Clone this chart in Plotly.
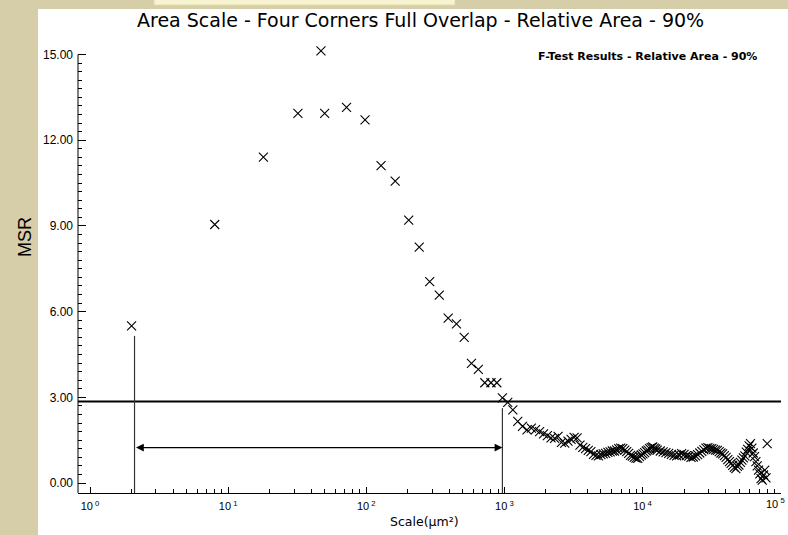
import math
import plotly.graph_objects as go

# ---------------- data ----------------
scale_um2 = [2, 8, 18, 32, 47, 50, 72, 98, 128, 162, 203, 242, 288, 338, 392, 450, 512, 578, 648, 722, 800, 882, 968,
             1058, 1152, 1250, 1352, 1458, 1568, 1682, 1800, 1922, 2048, 2178, 2312, 2450, 2592, 2738, 2888, 3042, 3200,
             3362, 3528, 3698, 3872, 4050, 4232, 4418, 4608, 4802, 5000, 5202, 5408, 5618, 5832, 6050, 6272, 6498, 6728,
             6962, 7200, 7442, 7688, 7938, 8192, 8450, 8712, 8978, 9248, 9522, 9800, 10082,
             10368, 10658, 10952, 11250, 11552, 11858, 12168, 12482, 12800, 13448, 14112, 14792, 15488, 16200, 16928,
             17672, 18432, 19208, 20000, 20808, 21632, 22472, 23328, 24200, 25088, 25992, 26912, 27848, 28800, 29768,
             30752, 31752, 32768, 33800, 34848, 35912, 36992, 38088, 39200, 40328, 41472, 42632, 43808, 45000, 46208,
             47432, 48672, 49928, 51200, 52488, 53792, 55112, 56448, 57800, 59168, 60552, 61952, 63368, 64800, 66248,
             67712, 69192, 70688, 72200, 73728, 75272, 76832, 78408, 80000]
msr = [5.50, 9.05, 11.41, 12.94, 15.13, 12.94, 13.15, 12.71, 11.11, 10.57, 9.20, 8.26, 7.05, 6.58, 5.77, 5.57, 5.10,
       4.19, 3.98, 3.51, 3.51, 3.51, 2.98,
       2.82, 2.56, 2.16, 1.98, 1.86, 1.92, 1.87, 1.80, 1.72, 1.66, 1.58, 1.56, 1.63, 1.42, 1.40, 1.47, 1.53, 1.60,
       1.58, 1.33, 1.25, 1.20, 1.14, 1.10, 1.00, 0.97, 0.95, 0.99, 1.02, 1.04, 1.07, 1.09, 1.12, 1.12, 1.16, 1.20,
       1.22, 1.20, 1.15, 1.10, 1.04, 0.97, 0.94, 0.90, 0.87, 0.86, 0.92, 0.98, 1.02,
       1.06, 1.12, 1.15, 1.20, 1.24, 1.26, 1.22, 1.19, 1.15, 1.12, 1.09, 1.06, 1.04, 1.00, 0.97,
       0.95, 0.98, 1.03, 1.00, 0.96, 0.94, 0.90, 0.91, 0.95, 0.99, 1.05, 1.11, 1.16, 1.22, 1.24,
       1.21, 1.20, 1.18, 1.15, 1.14, 1.10, 1.05, 1.02, 0.96, 0.90, 0.82, 0.75, 0.69, 0.62, 0.55,
       0.50, 0.58, 0.63, 0.72, 0.80, 0.88, 0.95, 1.08, 1.18, 1.30, 1.38, 1.22, 1.05, 0.92, 0.75,
       0.60, 0.45, 0.32, 0.15, 0.10, 0.28, 0.45, 0.18, 1.38]

threshold_msr = 2.85          # horizontal F-test line
bound_scales = [2.1, 968]     # vertical bracket lines
bound_tops = [5.15, 2.62]
arrow_msr = 1.24

x_tick_vals = [1, 10, 100, 1000, 10000, 100000]
x_tick_text = ["10<sup> 0</sup>", "10<sup> 1</sup>", "10<sup> 2</sup>", "10<sup> 3</sup>", "10<sup> 4</sup>", "10<sup> 5</sup>"]

title_text = "Area Scale - Four Corners Full Overlap - Relative Area - 90%"
legend_text = "F-Test Results - Relative Area - 90%"

# ---------------- geometry ----------------
W, H = 788, 535
Y_MIN, Y_TOP, Y_AXIS_END = -0.35, 15.3, 15.0
PX_PER_UNIT = (483 - 55) / 15.0
L, R, B = 78, 7, 42
T = int(round(55 - (Y_TOP - Y_AXIS_END) * PX_PER_UNIT))
PW, PH = W - L - R, H - T - B
def px(xp): return (xp - L) / PW
def py(yp): return (H - B - yp) / PH

FONT = "Liberation Sans, Arial, sans-serif"
WIDE = "DejaVu Sans, Liberation Sans, sans-serif"
X_MIN_LOG, X_MAX_LOG = -0.087, 5.003

fig = go.Figure()

# threshold line
fig.add_trace(go.Scatter(x=[10 ** X_MIN_LOG, 10 ** X_MAX_LOG], y=[threshold_msr, threshold_msr], mode="lines",
                         line=dict(color="black", width=2), hoverinfo="skip", showlegend=False))
# vertical bound lines
for xs, yt in zip(bound_scales, bound_tops):
    fig.add_trace(go.Scatter(x=[xs, xs], y=[Y_MIN, yt], mode="lines",
                             line=dict(color="#333333", width=1.2), hoverinfo="skip", showlegend=False))

# data points
fig.add_trace(go.Scatter(x=scale_um2, y=msr, mode="markers", cliponaxis=False,
                         marker=dict(symbol="x-thin", size=9, color="black", line=dict(width=1.1, color="black")),
                         showlegend=False))

minor_vals = [m * 10 ** d for d in range(0, 5) for m in range(2, 10)]

# last tick label is placed by hand (nudged left so it stays inside the page)
axis_tick_text = x_tick_text[:-1] + [""]

fig.update_layout(
    width=W, height=H, autosize=False,
    margin=dict(l=L, r=R, t=T, b=B, autoexpand=False),
    paper_bgcolor="#d6cea8",
    plot_bgcolor="white",
    font=dict(family=FONT, color="black", size=11),
    xaxis=dict(type="log", range=[X_MIN_LOG, X_MAX_LOG], showgrid=False, zeroline=False, automargin=False,
               showline=True, linecolor="black", linewidth=1, ticklabeloverflow="allow",
               ticks="inside", ticklen=6, tickcolor="black", tickwidth=1, ticklabelstandoff=3,
               tickvals=x_tick_vals, ticktext=axis_tick_text, tickfont=dict(size=11, family=FONT),
               minor=dict(tickvals=minor_vals, ticks="inside", ticklen=4, tickcolor="black", tickwidth=1, showgrid=False)),
    yaxis=dict(range=[Y_MIN, Y_TOP], showgrid=False, zeroline=False, automargin=False,
               showline=False,
               ticks="inside", ticklen=8, tickcolor="black", tickwidth=1, ticklabelstandoff=4,
               tick0=0, dtick=3, tickformat=".2f", tickfont=dict(size=12, family=FONT),
               minor=dict(tickvals=[i * 0.3 for i in range(0, 51)], ticks="inside", ticklen=4,
                          tickcolor="black", tickwidth=1, showgrid=False)),
    shapes=[
        dict(type="rect", xref="paper", yref="paper", x0=px(38), x1=px(800), y0=py(545), y1=py(9),
             fillcolor="white", line=dict(width=0), layer="below"),
        dict(type="rect", xref="paper", yref="paper", x0=px(154), x1=px(455), y0=py(5), y1=py(-5),
             fillcolor="#f8f4d2", line=dict(width=1, color="#e2dcae"), layer="below"),
        # y axis line ending at 15.00
        dict(type="line", xref="paper", yref="y", x0=0, x1=0, y0=Y_MIN, y1=Y_AXIS_END,
             line=dict(color="black", width=1)),
    ],
    annotations=[
        dict(text=title_text, xref="paper", yref="paper", x=px(420), y=py(20), showarrow=False,
             xanchor="center", yanchor="middle", font=dict(size=19, family=WIDE)),
        dict(text="MSR", xref="paper", yref="paper", x=px(25), y=py(237), showarrow=False, textangle=-90,
             xanchor="center", yanchor="middle", font=dict(size=18, family=FONT)),
        dict(text="Scale(µm²)", xref="paper", yref="paper", x=px(424), y=py(521), showarrow=False,
             xanchor="center", yanchor="middle", font=dict(size=12.5, family=WIDE)),
        dict(text="<b>" + legend_text + "</b>", xref="paper", yref="paper", x=px(647), y=py(56), showarrow=False,
             xanchor="center", yanchor="middle", font=dict(size=11, family=WIDE)),
        dict(text=x_tick_text[-1], xref="paper", yref="paper", x=px(787), y=py(503), showarrow=False,
             xanchor="right", yanchor="middle", font=dict(size=11, family=FONT)),
        dict(x=math.log10(bound_scales[1]), y=arrow_msr, ax=math.log10(bound_scales[0]), ay=arrow_msr,
             xref="x", yref="y", axref="x", ayref="y", text="", showarrow=True,
             arrowhead=2, startarrowhead=2, arrowside="end+start", arrowsize=1.3, startarrowsize=1.3,
             arrowwidth=1.2, arrowcolor="black"),
    ],
)

fig.write_html("out.html", config={"displayModeBar": False},
               post_script="document.body.style.margin='0';document.body.style.overflow='hidden';")
